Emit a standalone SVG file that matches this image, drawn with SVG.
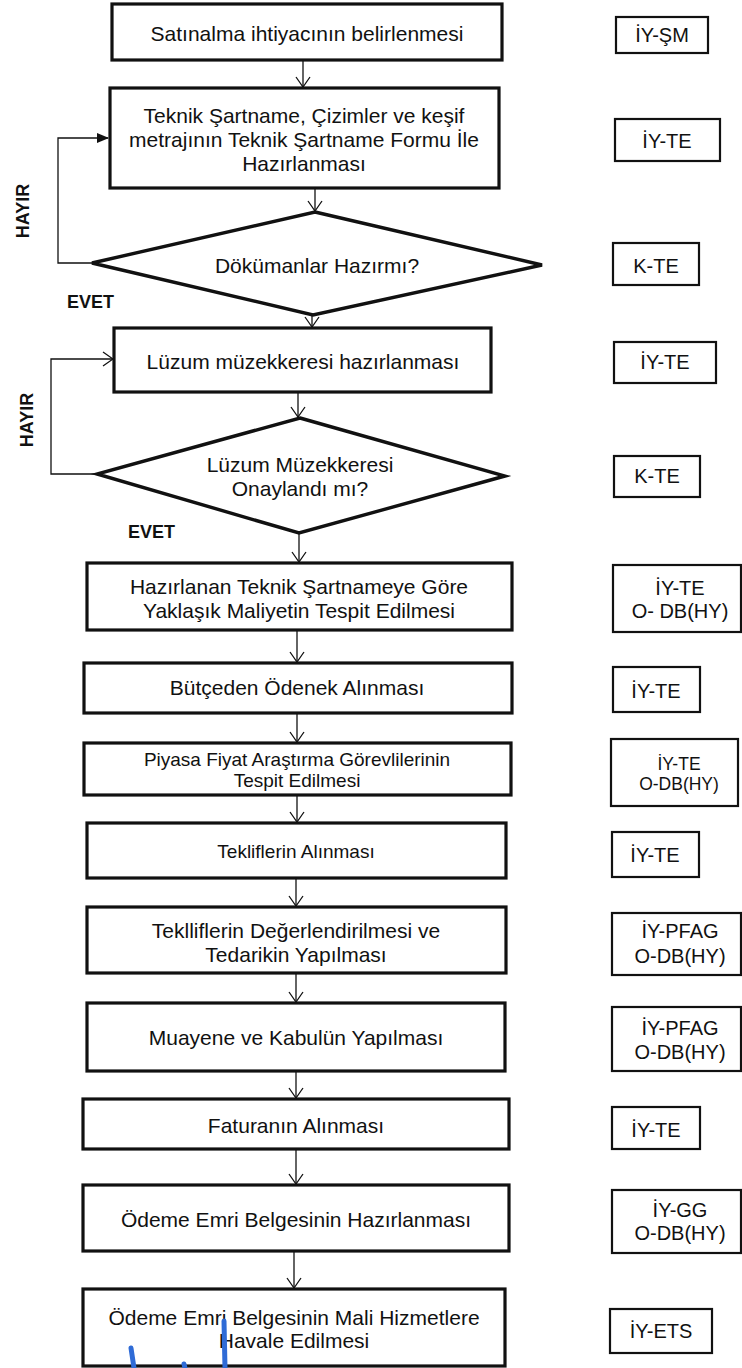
<svg xmlns="http://www.w3.org/2000/svg" width="742" height="1368" viewBox="0 0 742 1368">
<style>
.box{fill:#fff;stroke:#111;stroke-width:3.2}
.dia{fill:#fff;stroke:#111;stroke-width:3.4;stroke-linejoin:miter}
.rbox{fill:#fff;stroke:#111;stroke-width:2.2}
.t{font-family:"Liberation Sans",Arial,sans-serif;font-size:21px;fill:#111;text-anchor:middle}
.ts{font-size:19px}
.r{font-family:"Liberation Sans",Arial,sans-serif;font-size:20px;fill:#111;text-anchor:middle}
.rs{font-size:17.5px}
.lb{font-family:"Liberation Sans",Arial,sans-serif;font-size:18px;font-weight:bold;fill:#111}
.c{fill:none;stroke:#111;stroke-width:1.3}
.pen{fill:none;stroke:#2f6bd6;stroke-width:5;stroke-linecap:round}
</style>
<defs>
<marker id="open" viewBox="0 0 12 16" refX="11" refY="8" markerWidth="12" markerHeight="16" markerUnits="userSpaceOnUse" orient="auto">
<path d="M1,1 L11,8 L1,15" fill="none" stroke="#111" stroke-width="1.3"/>
</marker>
<marker id="solid" viewBox="0 0 12 12" refX="11" refY="6" markerWidth="12" markerHeight="12" markerUnits="userSpaceOnUse" orient="auto">
<path d="M0,1 L12,6 L0,11 Z" fill="#111"/>
</marker>
</defs>

<g id="connectors">
<line class="c" x1="303" y1="60" x2="303" y2="87" marker-end="url(#open)"/>
<line class="c" x1="315" y1="188" x2="315" y2="211" marker-end="url(#open)"/>
<polyline class="c" points="92,263 58,263 58,138 108,138" marker-end="url(#solid)"/>
<line class="c" x1="312" y1="315" x2="312" y2="327" marker-end="url(#open)"/>
<polyline class="c" points="97,474 51,474 51,359 113,359" marker-end="url(#open)"/>
<line class="c" x1="298" y1="392" x2="298" y2="417" marker-end="url(#open)"/>
<line class="c" x1="299" y1="533" x2="299" y2="562" marker-end="url(#open)"/>
<line class="c" x1="297" y1="630" x2="297" y2="662" marker-end="url(#open)"/>
<line class="c" x1="297" y1="713" x2="297" y2="742" marker-end="url(#open)"/>
<line class="c" x1="297" y1="795" x2="297" y2="822" marker-end="url(#open)"/>
<line class="c" x1="296" y1="878" x2="296" y2="906" marker-end="url(#open)"/>
<line class="c" x1="296" y1="973" x2="296" y2="1002" marker-end="url(#open)"/>
<line class="c" x1="296" y1="1071" x2="296" y2="1098" marker-end="url(#open)"/>
<line class="c" x1="296" y1="1149" x2="296" y2="1184" marker-end="url(#open)"/>
<line class="c" x1="294" y1="1251" x2="294" y2="1288" marker-end="url(#open)"/>
</g>

<g id="labels">
<text class="lb" text-anchor="middle" transform="translate(29,211) rotate(-90)">HAYIR</text>
<text class="lb" x="67" y="308">EVET</text>
<text class="lb" text-anchor="middle" transform="translate(33,420) rotate(-90)">HAYIR</text>
<text class="lb" x="128" y="538">EVET</text>
</g>

<g id="n1"><rect class="box" x="112" y="4" width="390" height="56"/><text class="t" x="307" y="41">Satınalma ihtiyacının belirlenmesi</text></g>
<g id="n2"><rect class="box" x="110" y="88" width="389" height="100"/>
<text class="t" x="304" y="123">Teknik Şartname, Çizimler ve keşif</text>
<text class="t" x="304" y="147">metrajının Teknik Şartname Formu İle</text>
<text class="t" x="304" y="171">Hazırlanması</text></g>
<g id="d1"><polygon class="dia" points="315,212 542,265 313,315 92,263"/><text class="t" x="317" y="273">Dökümanlar Hazırmı?</text></g>
<g id="n3"><rect class="box" x="114" y="328" width="377" height="64"/><text class="t" x="303" y="369">Lüzum müzekkeresi hazırlanması</text></g>
<g id="d2"><polygon class="dia" points="300,418 505,476 299,533 97,474"/>
<text class="t" x="300" y="472">Lüzum Müzekkeresi</text>
<text class="t" x="300" y="496">Onaylandı mı?</text></g>
<g id="n4"><rect class="box" x="87" y="563" width="425" height="67"/>
<text class="t" x="299" y="594">Hazırlanan Teknik Şartnameye Göre</text>
<text class="t" x="299" y="618">Yaklaşık Maliyetin Tespit Edilmesi</text></g>
<g id="n5"><rect class="box" x="84" y="663" width="428" height="50"/><text class="t" x="297" y="695">Bütçeden Ödenek Alınması</text></g>
<g id="n6"><rect class="box" x="84" y="743" width="427" height="52"/>
<text class="t ts" x="297" y="766">Piyasa Fiyat Araştırma Görevlilerinin</text>
<text class="t ts" x="297" y="787">Tespit Edilmesi</text></g>
<g id="n7"><rect class="box" x="87" y="823" width="419" height="55"/><text class="t ts" x="296" y="858">Tekliflerin Alınması</text></g>
<g id="n8"><rect class="box" x="87" y="907" width="419" height="66"/>
<text class="t" x="296" y="938">Teklliflerin Değerlendirilmesi ve</text>
<text class="t" x="296" y="962">Tedarikin Yapılması</text></g>
<g id="n9"><rect class="box" x="87" y="1003" width="418" height="68"/><text class="t" x="296" y="1045">Muayene ve Kabulün Yapılması</text></g>
<g id="n10"><rect class="box" x="83" y="1099" width="426" height="50"/><text class="t" x="296" y="1133">Faturanın Alınması</text></g>
<g id="n11"><rect class="box" x="83" y="1185" width="426" height="66"/><text class="t" x="296" y="1227">Ödeme Emri Belgesinin Hazırlanması</text></g>
<g id="n12"><rect class="box" x="83" y="1289" width="422" height="77"/>
<text class="t" x="294" y="1325">Ödeme Emri Belgesinin Mali Hizmetlere</text>
<text class="t" x="294" y="1348">Havale Edilmesi</text></g>

<g id="r1"><rect class="rbox" x="616" y="17" width="92" height="36"/><text class="r" x="662" y="42">İY-ŞM</text></g>
<g id="r2"><rect class="rbox" x="615" y="119" width="105" height="42"/><text class="r" x="667" y="148">İY-TE</text></g>
<g id="r3"><rect class="rbox" x="613" y="243" width="86" height="42"/><text class="r" x="656" y="273">K-TE</text></g>
<g id="r4"><rect class="rbox" x="614" y="342" width="102" height="41"/><text class="r" x="665" y="369">İY-TE</text></g>
<g id="r5"><rect class="rbox" x="614" y="456" width="86" height="41"/><text class="r" x="657" y="483">K-TE</text></g>
<g id="r6"><rect class="rbox" x="613" y="565" width="128" height="67"/><text class="r" x="680" y="595">İY-TE</text><text class="r" x="680" y="618">O- DB(HY)</text></g>
<g id="r7"><rect class="rbox" x="613" y="667" width="87" height="45"/><text class="r" x="656" y="698">İY-TE</text></g>
<g id="r8"><rect class="rbox" x="611" y="739" width="127" height="67"/><text class="r rs" x="679" y="770">İY-TE</text><text class="r rs" x="679" y="790">O-DB(HY)</text></g>
<g id="r9"><rect class="rbox" x="612" y="832" width="87" height="45"/><text class="r" x="655" y="862">İY-TE</text></g>
<g id="r10"><rect class="rbox" x="612" y="913" width="129" height="62"/><text class="r" x="680" y="938">İY-PFAG</text><text class="r" x="680" y="963">O-DB(HY)</text></g>
<g id="r11"><rect class="rbox" x="612" y="1007" width="129" height="64"/><text class="r" x="680" y="1035">İY-PFAG</text><text class="r" x="680" y="1059">O-DB(HY)</text></g>
<g id="r12"><rect class="rbox" x="612" y="1107" width="88" height="42"/><text class="r" x="656" y="1137">İY-TE</text></g>
<g id="r13"><rect class="rbox" x="612" y="1190" width="129" height="63"/><text class="r" x="680" y="1217">İY-GG</text><text class="r" x="680" y="1240">O-DB(HY)</text></g>
<g id="r14"><rect class="rbox" x="610" y="1309" width="102" height="44"/><text class="r" x="661" y="1338">İY-ETS</text></g>

<g id="pen">
<path class="pen" d="M131,1348 L134,1368"/>
<path class="pen" d="M184,1364 L185,1368"/>
<path class="pen" d="M224,1321 L225,1368"/>
</g>
</svg>
